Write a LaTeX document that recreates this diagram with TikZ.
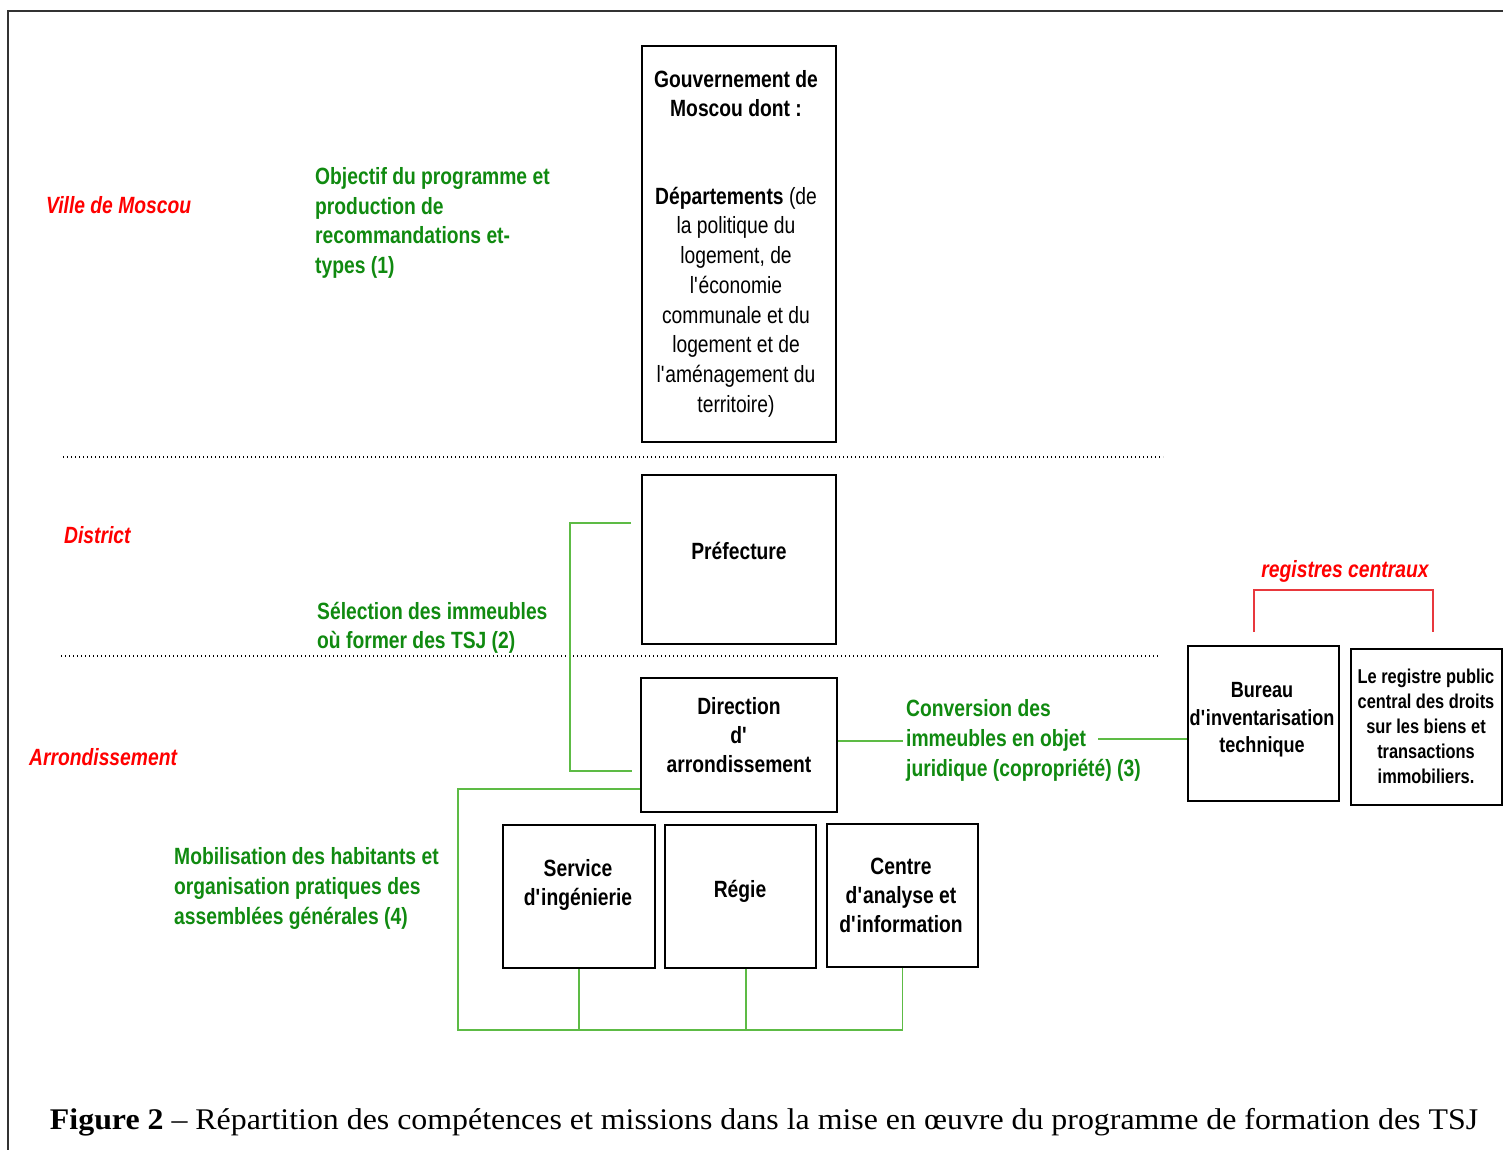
\documentclass[tikz,border=0pt]{standalone}
\usepackage{fontspec}
\setmainfont{Liberation Sans}[FakeStretch=0.82]
\newfontfamily\capfont{Liberation Serif}
\definecolor{lblgreen}{HTML}{108A10}
\definecolor{lblred}{HTML}{FF0000}
\definecolor{lnkgreen}{HTML}{5DBB45}
\definecolor{lnkred}{HTML}{E8383D}
\definecolor{framegray}{HTML}{333333}
\newcommand{\ap}{\textquotesingle}
\begin{document}
\begin{tikzpicture}[x=1pt,y=-1pt,
  boxst/.style={draw=black,line width=1.6pt,inner sep=0pt,fill=none},
  boxtxt/.style={inner sep=0pt,align=center,font=\fontsize{23.5}{29}\selectfont\bfseries},
  greenlbl/.style={inner sep=0pt,align=left,anchor=west,text=lblgreen,font=\fontsize{23.5}{29.6}\selectfont\bfseries},
  redlbl/.style={inner sep=0pt,anchor=west,text=lblred,font=\fontsize{23.5}{28}\selectfont\bfseries\itshape},
  greenlink/.style={draw=lnkgreen,line width=1.4pt},
  redlink/.style={draw=lnkred,line width=1.4pt},
  dotline/.style={draw=black,line width=1.3pt,dash pattern=on 1.2pt off 2.8pt},
  framest/.style={draw=framegray,line width=1.3pt}]
\useasboundingbox (0,0) rectangle (1503,1150);
% frame
\draw[framest] (1503,11) -- (8,11) -- (8,1150);
% dotted level separators
\draw[dotline] (63,457) -- (1163,457);
\draw[dotline] (61,656) -- (1160,656);
% boxes
\node[boxst,minimum width=194,minimum height=396] (gov) at (739,244) {};
\node[boxst,minimum width=194,minimum height=169] (pref) at (739,559.5) {};
\node[boxst,minimum width=196,minimum height=134] (dir) at (739,745) {};
\node[boxst,minimum width=152,minimum height=143] (svc) at (579,896.5) {};
\node[boxst,minimum width=151,minimum height=143] (reg) at (740.5,896.5) {};
\node[boxst,minimum width=151,minimum height=143] (cen) at (902.5,895.5) {};
\node[boxst,minimum width=151,minimum height=155] (bur) at (1263.5,723.5) {};
\node[boxst,minimum width=151,minimum height=156] (pub) at (1426.5,727) {};
% box texts
\node[boxtxt] (govt1) at (736,93.5) {Gouvernement de\\Moscou dont :};
\node[boxtxt,font=\fontsize{23.5}{29.7}\selectfont] (govt2) at (736,302) {\textbf{Départements} (de\\la politique du\\logement, de\\l\ap économie\\communale et du\\logement et de\\l\ap aménagement du\\territoire)};
\node[boxtxt] (preft) at (739,551) {Préfecture};
\node[boxtxt] (dirt) at (739,735) {Direction\\d\ap\\arrondissement};
\node[boxtxt] (svct) at (578,884.5) {Service\\d\ap ingénierie};
\node[boxtxt] (regt) at (740,891) {Régie};
\node[boxtxt] (cent) at (901,895.5) {Centre\\d\ap analyse et\\d\ap information};
\node[boxtxt,font=\fontsize{22}{27.5}\selectfont\bfseries] (burt) at (1262,720) {Bureau\\d\ap inventarisation\\technique};
\node[boxtxt,font=\fontsize{20}{25}\selectfont\bfseries] (pubt) at (1426,726.5) {Le registre public\\central des droits\\sur les biens et\\transactions\\immobiliers.};
% level labels
\node[redlbl] (lville) at (46,205.5) {Ville de Moscou};
\node[redlbl] (ldist) at (64,535.5) {District};
\node[redlbl] (larr) at (29,757.5) {Arrondissement};
\node[redlbl,anchor=center] (lreg) at (1345,571) {registres centraux};
% green mission labels
\node[greenlbl] (m1) at (315,223) {Objectif du programme et\\production de\\recommandations et-\\types (1)};
\node[greenlbl] (m2) at (317,628) {Sélection des immeubles\\où former des TSJ (2)};
\node[greenlbl] (m3) at (906,740.5) {Conversion des\\immeubles en objet\\juridique (copropriété) (3)};
\node[greenlbl] (m4) at (174,888.5) {Mobilisation des habitants et\\organisation pratiques des\\assemblées générales (4)};
% connector coordinates
\coordinate (s2a) at (631,523);
\coordinate (s2b) at (570,523);
\coordinate (s2c) at (570,771);
\coordinate (s2d) at (632,771);
\coordinate (c3a) at (903,741);
\coordinate (c3b) at (1098,739);
\coordinate (m4a) at (458,789);
\coordinate (m4b) at (458,1030);
\coordinate (r1) at (1254,632);
\coordinate (r2) at (1433,632);
\coordinate (rtop) at (0,590);
% green connectors
\draw[greenlink] (s2a) -- (s2b) -- (s2c) -- (s2d);
\draw[greenlink] (dir.east |- c3a) -- (c3a);
\draw[greenlink] (c3b) -- (c3b -| bur.west);
\draw[greenlink] (m4a -| dir.west) -- (m4a) -- (m4b) -- (m4b -| cen.south) -- (cen.south);
\draw[greenlink] (svc.south) -- (svc.south |- m4b);
\draw[greenlink] ([xshift=5.5pt]reg.south) -- ([xshift=5.5pt]reg.south |- m4b);
% red bracket
\draw[redlink] (r1) -- (r1 |- rtop) -- (r2 |- rtop) -- (r2);
% caption
\node[inner sep=0pt] (cap) at (764,1122) {\resizebox{1428pt}{\height}{\capfont\fontsize{30}{36}\selectfont\textbf{Figure 2} – Répartition des compétences et missions dans la mise en œuvre du programme de formation des TSJ}};
\end{tikzpicture}
\end{document}
